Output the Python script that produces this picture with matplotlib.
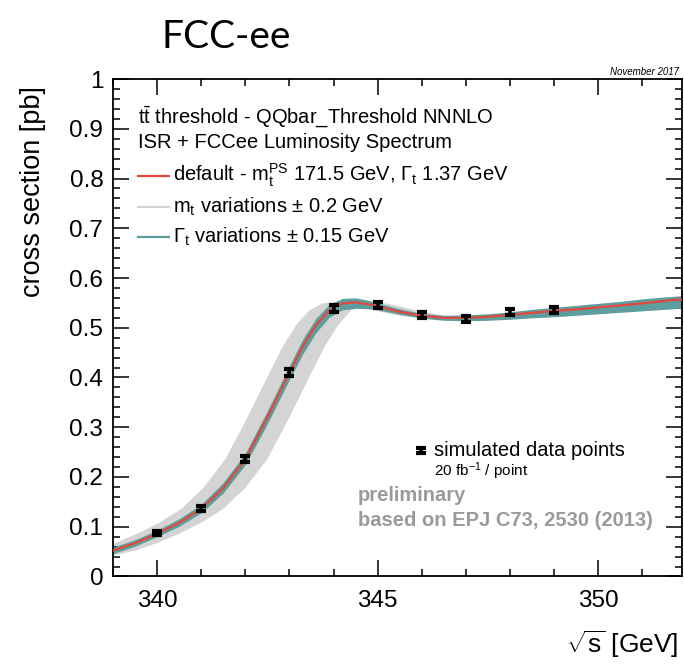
import numpy as np
import matplotlib
matplotlib.use('Agg')
import matplotlib.pyplot as plt
from matplotlib.lines import Line2D

plt.rcParams['font.family'] = ['Liberation Sans', 'DejaVu Sans']
plt.rcParams['mathtext.fontset'] = 'custom'
plt.rcParams['mathtext.rm'] = 'Liberation Sans'
plt.rcParams['mathtext.it'] = 'Liberation Sans:italic'
plt.rcParams['mathtext.bf'] = 'Liberation Sans:bold'

# default theory curve (QQbar_Threshold NNNLO + ISR + lumi spectrum)
sqrt_s = [338.5, 339.0, 339.5, 340.0, 340.5, 341.0, 341.5, 342.0, 342.5, 343.0,
          343.3, 343.6, 343.9, 344.2, 344.5, 344.8, 345.0, 345.5, 346.0, 346.5,
          347.0, 347.5, 348.0, 348.5, 349.0, 349.5, 350.0, 350.5, 351.0, 351.5, 352.0]
xsec = [0.042, 0.052, 0.067, 0.086, 0.108, 0.136, 0.178, 0.236, 0.320, 0.410,
        0.462, 0.505, 0.535, 0.549, 0.551, 0.547, 0.543, 0.532, 0.524, 0.520,
        0.520, 0.522, 0.526, 0.530, 0.534, 0.537, 0.541, 0.545, 0.549, 0.554, 0.558]

# envelope of the width variations (Gamma_t +- 0.15 GeV)
width_lo = [0.037, 0.046, 0.061, 0.080, 0.101, 0.128, 0.168, 0.225, 0.307, 0.396,
            0.447, 0.490, 0.521, 0.536, 0.539, 0.538, 0.536, 0.527, 0.519, 0.515,
            0.514, 0.515, 0.517, 0.520, 0.522, 0.525, 0.528, 0.531, 0.534, 0.537, 0.540]
width_hi = [0.048, 0.059, 0.074, 0.093, 0.116, 0.145, 0.189, 0.248, 0.333, 0.424,
            0.477, 0.519, 0.547, 0.559, 0.560, 0.555, 0.550, 0.538, 0.529, 0.525,
            0.526, 0.528, 0.532, 0.537, 0.541, 0.545, 0.549, 0.553, 0.558, 0.562, 0.565]

# mass variations +-0.2 GeV shift the threshold by about 2*dm in sqrt(s)
mass_shift_lo = 0.45
mass_shift_hi = 0.50

# simulated data points, 20 fb^-1 each
data_x = [340, 341, 342, 343, 344, 345, 346, 347, 348, 349]
data_y = [0.087, 0.137, 0.237, 0.410, 0.538, 0.545, 0.525, 0.518, 0.532, 0.535]
data_err = [0.004, 0.005, 0.006, 0.007, 0.007, 0.006, 0.006, 0.006, 0.006, 0.006]

red = '#e2483c'
teal = '#5d9d9d'
grey = '#d4d4d4'

fig = plt.figure(figsize=(6.84, 6.64), dpi=100)
ax = fig.add_axes([0.1652, 0.1318, 0.8319, 0.7492])

x = np.array(sqrt_s)
y = np.array(xsec)
ax.fill(np.concatenate([x - mass_shift_lo, (x + mass_shift_hi)[::-1]]),
        np.concatenate([y, y[::-1]]), color=grey, lw=0, zorder=1)
ax.fill_between(sqrt_s, width_lo, width_hi, color=teal, lw=0, zorder=2)
ax.plot(sqrt_s, xsec, color=red, lw=1.6, zorder=3)
ax.errorbar(data_x, data_y, yerr=data_err, fmt='none', ecolor='black',
            elinewidth=2.6, capsize=3.6, capthick=3.0, zorder=4)

ax.set_xlim(339, 351.9)
ax.set_ylim(0, 1)
ax.set_xticks([340, 345, 350])
ax.set_xticks(np.arange(339, 352), minor=True)
ax.set_yticks(np.arange(0, 1.01, 0.1))
ax.set_yticks(np.arange(0, 1.001, 0.02), minor=True)
ax.set_yticklabels(['0', '0.1', '0.2', '0.3', '0.4', '0.5', '0.6', '0.7', '0.8', '0.9', '1'])
ax.tick_params(which='both', direction='in', top=True, right=True, width=1.1,
               labelsize=17.5)
ax.tick_params(which='major', length=11.5)
ax.tick_params(which='minor', length=5)
ax.tick_params(axis='x', pad=10)
ax.tick_params(axis='y', pad=7)
for s in ax.spines.values():
    s.set_linewidth(1.3)

ax.set_xlabel(r'$\sqrt{\mathrm{s}}$ [GeV]', fontsize=19, loc='right')
ax.xaxis.set_label_coords(0.993, -0.104)
ax.set_ylabel('cross section [pb]', fontsize=19.5, loc='top')
ax.yaxis.set_label_coords(-0.118, 0.985)

# legend block, ROOT style
fs = 14.5
ax.text(339.57, 0.923, r'$\mathrm{t\bar{t}}$ threshold - QQbar_Threshold NNNLO',
        fontsize=fs, va='center')
ax.text(339.57, 0.873, 'ISR + FCCee Luminosity Spectrum', fontsize=fs, va='center')
entries = [
    (0.806, red, r'default - m$_\mathrm{t}^\mathrm{PS}$ 171.5 GeV, Γ$_\mathrm{t}$ 1.37 GeV'),
    (0.743, grey, r'm$_\mathrm{t}$ variations ± 0.2 GeV'),
    (0.683, teal, r'Γ$_\mathrm{t}$ variations ± 0.15 GeV'),
]
for ypos, col, lab in entries:
    ax.add_line(Line2D([339.57, 340.26], [ypos, ypos], color=col, lw=1.6))
    ax.text(340.36, ypos, lab, fontsize=fs, va='center')

ax.errorbar([345.99], [0.254], yerr=[0.005], fmt='none', ecolor='black',
            elinewidth=2.6, capsize=3.6, capthick=3.0)
ax.text(346.28, 0.254, 'simulated data points', fontsize=fs, va='center')
ax.text(346.28, 0.212, r'20 fb$^{-1}$ / point', fontsize=11, va='center')
ax.text(344.55, 0.162, 'preliminary', fontsize=14.5, va='center',
        color='#9a9a9a', fontweight='bold')
ax.text(344.55, 0.112, 'based on EPJ C73, 2530 (2013)', fontsize=14.5, va='center',
        color='#9a9a9a', fontweight='bold')

ax.text(0.995, 1.004, 'November 2017', transform=ax.transAxes, fontsize=7,
        style='italic', ha='right', va='bottom')

fig.text(0.33, 0.945, 'FCC-ee', fontsize=28, family=['Lato', 'DejaVu Sans'],
         ha='center', va='center')

fig.savefig('out.png', dpi=100)
